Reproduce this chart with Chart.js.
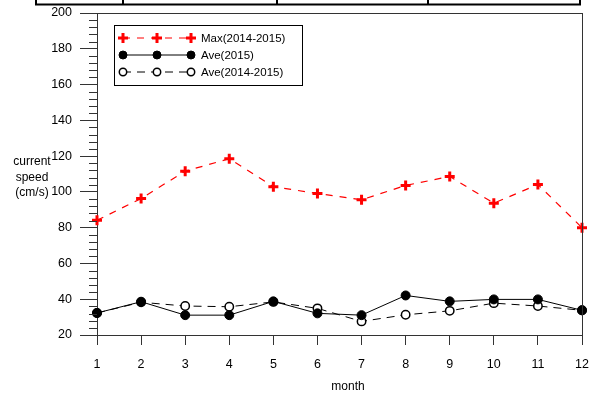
<!DOCTYPE html>
<html>
<head>
<meta charset="utf-8">
<script src="https://cdn.jsdelivr.net/npm/chart.js@4/dist/chart.umd.min.js"></script>
<style>
  html, body { margin: 0; padding: 0; background: #fff; }
  canvas { display: block; }
</style>
</head>
<body>
<canvas id="c" width="594" height="394"></canvas>
<script>
// Monthly current speed (cm/s)
const months = ['1', '2', '3', '4', '5', '6', '7', '8', '9', '10', '11', '12'];
const maxSpeed = [84.1, 96.3, 111.6, 118.5, 102.9, 99.1, 95.6, 103.6, 108.6, 93.7, 104.1, 80.0];
const ave2015 = [32.3, 38.6, 31.1, 31.1, 38.8, 32.1, 31.1, 42.1, 38.8, 39.9, 39.9, 33.8];
const ave2014to2015 = [32.3, 38.3, 36.2, 35.8, 38.5, 34.9, 27.6, 31.3, 33.5, 37.8, 36.2, 33.8];
const seriesNames = ['Max(2014-2015)', 'Ave(2015)', 'Ave(2014-2015)'];
const yTicks = [20, 40, 60, 80, 100, 120, 140, 160, 180, 200];

const FONT = '"Liberation Sans", Arial, sans-serif';
const RED = '#ff0000';
const INK = '#000000';
const AXIS = '#333333';

function noScalePadding(s) {
  s.paddingLeft = 0; s.paddingRight = 0; s.paddingTop = 0; s.paddingBottom = 0;
}

// Box frame, minor ticks, header strip, axis titles and the legend
const decorations = {
  id: 'decorations',
  afterDraw(chart) {
    const { ctx, chartArea: a, scales } = chart;
    const y = scales.y;
    ctx.save();

    // strip of a table above the plot
    ctx.strokeStyle = '#000';
    ctx.lineWidth = 2;
    ctx.beginPath();
    ctx.moveTo(36, 4.5); ctx.lineTo(580, 4.5);
    [36, 123, 277, 428, 580].forEach(x => { ctx.moveTo(x, 0); ctx.lineTo(x, 5.5); });
    ctx.stroke();

    // frame: top and right
    ctx.strokeStyle = AXIS;
    ctx.lineWidth = 1;
    ctx.beginPath();
    ctx.moveTo(a.left, a.top + 0.5); ctx.lineTo(a.right + 0.5, a.top + 0.5);
    ctx.moveTo(a.right + 0.5, a.top); ctx.lineTo(a.right + 0.5, a.bottom);
    ctx.stroke();

    // minor ticks on the y axis, every 4 units
    ctx.beginPath();
    for (let v = y.min; v <= y.max; v += 4) {
      if (v % 20 === 0) continue;
      const py = Math.round(y.getPixelForValue(v)) + 0.5;
      ctx.moveTo(a.left - 8, py); ctx.lineTo(a.left, py);
    }
    ctx.stroke();

    // axis titles
    ctx.fillStyle = INK;
    ctx.font = '12px ' + FONT;
    ctx.textAlign = 'center';
    ctx.textBaseline = 'alphabetic';
    ['current', 'speed', '(cm/s)'].forEach((t, i) => ctx.fillText(t, 32, 165 + i * 15.5));
    ctx.fillText('month', 348, 390);

    // legend
    const lx = 114.5, ly = 25.5, lw = 188, lh = 60;
    ctx.fillStyle = '#fff';
    ctx.fillRect(lx, ly, lw, lh);
    ctx.strokeStyle = '#000';
    ctx.lineWidth = 1;
    ctx.strokeRect(lx, ly, lw, lh);

    const rows = [38, 55, 72];
    const mx = [123, 157, 191];
    chart.data.datasets.forEach((ds, i) => {
      const ry = rows[i];
      ctx.save();
      ctx.strokeStyle = ds.borderColor;
      ctx.lineWidth = ds.borderWidth;
      ctx.setLineDash(ds.borderDash || []);
      ctx.beginPath();
      ctx.moveTo(mx[0], ry); ctx.lineTo(mx[2], ry);
      ctx.stroke();
      ctx.restore();
      mx.forEach(x => {
        ctx.save();
        if (ds.pointStyle === 'cross') {
          ctx.strokeStyle = ds.pointBorderColor;
          ctx.lineWidth = ds.pointBorderWidth;
          ctx.beginPath();
          ctx.moveTo(x - 5, ry); ctx.lineTo(x + 5, ry);
          ctx.moveTo(x, ry - 5); ctx.lineTo(x, ry + 5);
          ctx.stroke();
        } else {
          ctx.beginPath();
          ctx.arc(x, ry, ds.pointRadius - 0.5, 0, Math.PI * 2);
          ctx.fillStyle = ds.pointBackgroundColor;
          ctx.fill();
          ctx.strokeStyle = ds.pointBorderColor;
          ctx.lineWidth = ds.pointBorderWidth;
          ctx.stroke();
        }
        ctx.restore();
      });
      ctx.fillStyle = INK;
      ctx.font = '11.5px ' + FONT;
      ctx.textAlign = 'left';
      ctx.textBaseline = 'middle';
      ctx.fillText(ds.label, 201, ry + 0.5);
    });

    ctx.restore();
  }
};

new Chart(document.getElementById('c'), {
  type: 'line',
  data: {
    labels: months,
    datasets: [
      {
        label: seriesNames[0],
        data: maxSpeed,
        borderColor: RED,
        borderWidth: 1.2,
        borderDash: [7, 7],
        pointStyle: 'cross',
        pointRadius: 5,
        pointBorderColor: RED,
        pointBackgroundColor: RED,
        pointBorderWidth: 3,
        tension: 0,
        clip: false
      },
      {
        label: seriesNames[1],
        data: ave2015,
        borderColor: INK,
        borderWidth: 1,
        pointStyle: 'circle',
        pointRadius: 4.5,
        pointBorderColor: INK,
        pointBackgroundColor: INK,
        pointBorderWidth: 1,
        tension: 0,
        clip: false
      },
      {
        label: seriesNames[2],
        data: ave2014to2015,
        borderColor: INK,
        borderWidth: 1,
        borderDash: [8, 6],
        pointStyle: 'circle',
        pointRadius: 4.2,
        pointBorderColor: INK,
        pointBackgroundColor: '#ffffff',
        pointBorderWidth: 1.5,
        tension: 0,
        clip: false
      }
    ]
  },
  options: {
    responsive: false,
    animation: false,
    devicePixelRatio: 1,
    layout: { padding: { top: 13, right: 12, left: 0, bottom: 0 } },
    plugins: { legend: { display: false }, title: { display: false }, tooltip: { enabled: false } },
    scales: {
      x: {
        type: 'category',
        offset: false,
        afterFit(s) { s.height = 59; noScalePadding(s); },
        grid: { drawOnChartArea: false, drawTicks: true, tickLength: 10, color: AXIS, tickColor: AXIS },
        border: { display: true, color: AXIS, width: 1 },
        ticks: { color: INK, font: { family: FONT, size: 12.5 }, padding: 12, autoSkip: false, maxRotation: 0 }
      },
      y: {
        type: 'linear',
        min: 20,
        max: 200,
        afterFit(s) { s.width = 97; noScalePadding(s); },
        afterBuildTicks(s) { s.ticks = yTicks.map(v => ({ value: v })); },
        grid: { drawOnChartArea: false, drawTicks: true, tickLength: 17, color: AXIS, tickColor: AXIS },
        border: { display: true, color: AXIS, width: 1 },
        ticks: { color: INK, font: { family: FONT, size: 12.5 }, padding: 8 }
      }
    }
  },
  plugins: [decorations]
});
</script>
</body>
</html>
